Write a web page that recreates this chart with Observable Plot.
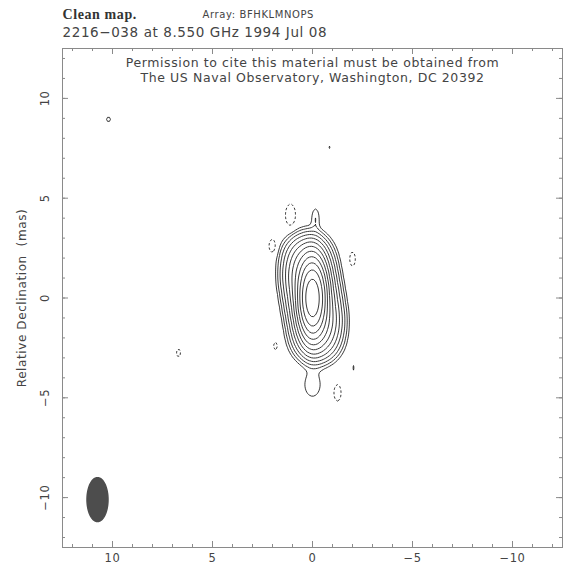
<!DOCTYPE html>
<html><head><meta charset="utf-8">
<script src="https://cdn.jsdelivr.net/npm/d3@7"></script>
<script src="https://cdn.jsdelivr.net/npm/@observablehq/plot@0.6"></script>
<style>body{margin:0;background:#fff} svg{display:block} svg text{letter-spacing:0.6px}</style>
</head><body><div id="chart"></div>
<script>
// ---- text ----
const titleA = "Clean map.";
const titleB = "Array: BFHKLMNOPS";
const titleLine2 = "2216\u2212038 at 8.550 GHz 1994 Jul 08";
const noteLines = ["Permission to cite this material must be obtained from", "The US Naval Observatory, Washington, DC 20392"];
const yLabel = "Relative Declination  (mas)";

// ---- axes ----
const xDomain = [12.5, -12.5];
const yDomain = [-12.5, 12.5];
const majorTicks = [-10, -5, 0, 5, 10];
const minorTicks = [-12, -11, -10, -9, -8, -7, -6, -5, -4, -3, -2, -1, 0, 1, 2, 3, 4, 5, 6, 7, 8, 9, 10, 11, 12];

// ---- clean-map components (x, y in mas; amplitude; gaussian widths in mas) ----
const compX   = [0,    0.2,   0,     -0.2,   0.3,    -0.2,   -0.15,   0.0,     1.1,     2.0,     -2.0,    1.85,    -1.25,   6.7,     10.2,   -0.85,  -2.05,  -3.0];
const compY   = [0,    1.2,   0,     -1.2,   2.2,    -2.2,    4.0,   -4.35,    4.15,    2.6,      1.95,  -2.4,     -4.75,  -2.75,    8.95,   7.55,  -3.5,   -5.15];
const compAmp = [0.85, 0.05,  0.05,   0.05,  0.004,  0.004, 0.00048, 0.00048, -0.0006, -0.0005, -0.0005, -0.0004, -0.0005, -0.0004, 0.0004, 0.0003, 0.0003, 0.0003];
const compSx  = [0.30, 0.50,  0.50,   0.50,  0.55,   0.55,   0.15,    0.33,    0.19,    0.15,     0.12,    0.10,    0.15,    0.10,    0.10,   0.05,   0.05,   0.05];
const compSy  = [0.83, 0.70,  0.70,   0.70,  0.50,   0.50,   0.40,    0.50,    0.42,    0.30,     0.30,    0.20,    0.35,    0.20,    0.12,   0.12,   0.20,   0.10];

// contour levels
const posLevels = [0.00025, 0.0005, 0.001, 0.002, 0.004, 0.008, 0.016, 0.032, 0.064, 0.128, 0.256, 0.512];
const negLevels = [0.00025];

// restoring beam (FWHM ellipse)
const beamX = 10.75, beamY = -10.1, beamMaj = 2.2, beamMin = 1.05;

function brightness(x, y) {
  let s = 0;
  for (let i = 0; i < compX.length; i++) {
    const dx = (x - compX[i]) / compSx[i], dy = (y - compY[i]) / compSy[i];
    s += compAmp[i] * Math.exp(-0.5 * (dx * dx + dy * dy));
  }
  return s;
}
const beamPts = d3.range(0, 2 * Math.PI, Math.PI / 60).map(t => ({
  x: beamX + (beamMin / 2) * Math.cos(t),
  y: beamY + (beamMaj / 2) * Math.sin(t)
}));

const W = 572, H = 566, mL = 62, mR = 10, mT = 48, mB = 19;
const innerW = W - mL - mR, innerH = H - mT - mB;
const fmt = d => d < 0 ? "\u2212" + Math.abs(d) : String(d);
const font = "DejaVu Sans, sans-serif";
const axisColor = "#8a8a8a";
const textColor = "#444";
const bounds = {x1: xDomain[0], x2: xDomain[1], y1: yDomain[1], y2: yDomain[0]};

const chart = Plot.plot({
  width: W, height: H,
  marginLeft: mL, marginRight: mR, marginTop: mT, marginBottom: mB,
  style: {fontFamily: font, background: "#fff"},
  x: {domain: xDomain, axis: null},
  y: {domain: yDomain, axis: null},
  marks: [
    Plot.contour(undefined, {...bounds, value: brightness, thresholds: posLevels, stroke: "#222", fill: "none", strokeWidth: 0.9}),
    Plot.contour(undefined, {...bounds, value: (x, y) => -brightness(x, y), thresholds: negLevels, stroke: "#222", fill: "none", strokeWidth: 0.9, strokeDasharray: "2.5,2"}),
    Plot.line(beamPts, {x: "x", y: "y", fill: "#4d4d4d", stroke: "#4d4d4d", curve: "linear-closed"}),
    Plot.frame({stroke: axisColor}),
    // ticks (inward, all four sides)
    Plot.tickX(minorTicks, {x: d => d, insetTop: innerH - 3, stroke: axisColor}),
    Plot.tickX(minorTicks, {x: d => d, insetBottom: innerH - 3, stroke: axisColor}),
    Plot.tickX(majorTicks, {x: d => d, insetTop: innerH - 6, stroke: axisColor}),
    Plot.tickX(majorTicks, {x: d => d, insetBottom: innerH - 6, stroke: axisColor}),
    Plot.tickY(minorTicks, {y: d => d, insetRight: innerW - 3, stroke: axisColor}),
    Plot.tickY(minorTicks, {y: d => d, insetLeft: innerW - 3, stroke: axisColor}),
    Plot.tickY(majorTicks, {y: d => d, insetRight: innerW - 6, stroke: axisColor}),
    Plot.tickY(majorTicks, {y: d => d, insetLeft: innerW - 6, stroke: axisColor}),
    // tick labels
    Plot.text(majorTicks, {x: d => d, text: fmt, frameAnchor: "bottom", dy: 11, lineAnchor: "middle", fontSize: 11.5, fill: textColor}),
    Plot.text(majorTicks, {y: d => d, text: fmt, frameAnchor: "left", dx: -17, rotate: -90, textAnchor: "middle", lineAnchor: "middle", fontSize: 11.5, fill: textColor}),
    Plot.text([yLabel], {frameAnchor: "left", dx: -40, rotate: -90, textAnchor: "middle", lineAnchor: "middle", fontSize: 12, fill: textColor}),
    // titles
    Plot.text([titleA], {frameAnchor: "top-left", dx: 0, dy: -34, textAnchor: "start", lineAnchor: "middle", fontSize: 14, fontWeight: "bold", fontFamily: "Liberation Serif, serif", fill: "#333"}),
    Plot.text([titleB], {frameAnchor: "top-left", dx: 140, dy: -34, textAnchor: "start", lineAnchor: "middle", fontSize: 10, fill: textColor}),
    Plot.text([titleLine2], {frameAnchor: "top-left", dx: 0, dy: -16, textAnchor: "start", lineAnchor: "middle", fontSize: 13.5, fill: textColor}),
    Plot.text([noteLines.join("\n")], {frameAnchor: "top", dy: 8, lineAnchor: "top", lineHeight: 1.2, fontSize: 12.5, fill: textColor})
  ]
});
document.getElementById("chart").append(chart);
</script>
</body></html>
